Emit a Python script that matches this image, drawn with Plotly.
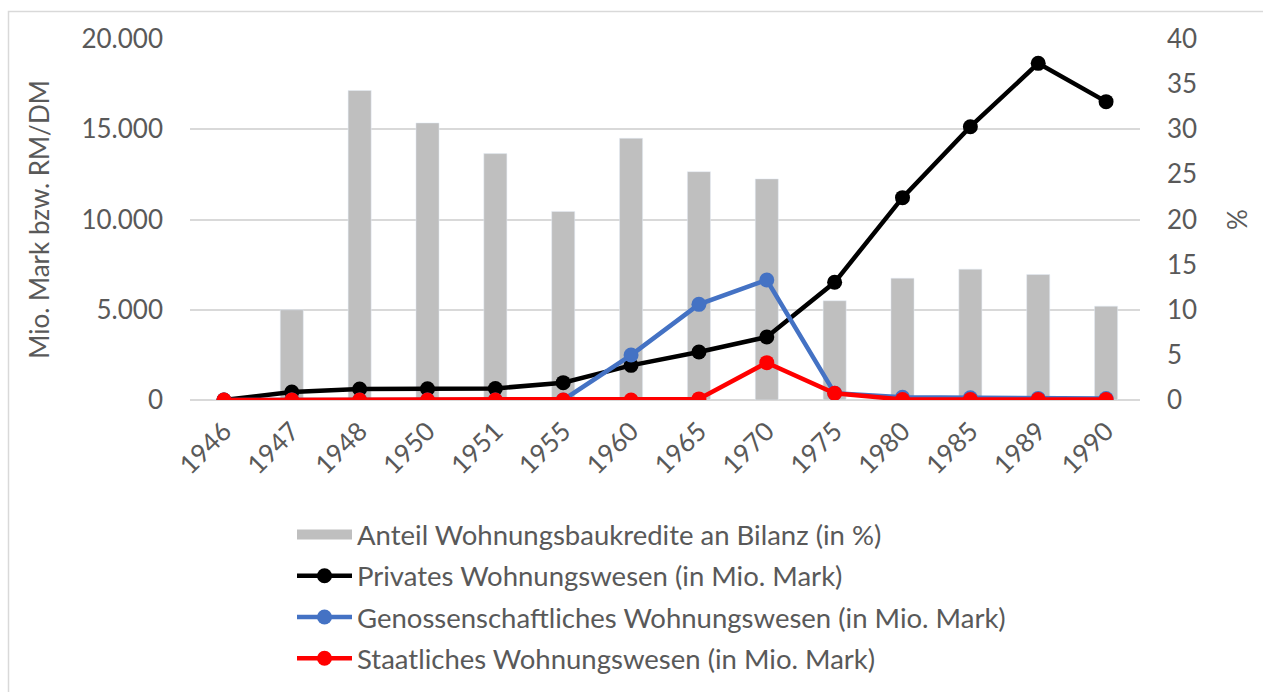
import plotly.graph_objects as go

years = ["1946", "1947", "1948", "1950", "1951", "1955", "1960", "1965",
         "1970", "1975", "1980", "1985", "1989", "1990"]
anteil_pct = [0, 10.0, 34.3, 30.7, 27.3, 20.9, 29.0, 25.3, 24.5, 11.0, 13.5, 14.5, 13.9, 10.4]
privat = [0, 440, 610, 620, 640, 960, 1920, 2660, 3490, 6520, 11210, 15140, 18650, 16530]
genossen = [0, 0, 0, 0, 0, 0, 2490, 5300, 6650, 380, 150, 120, 90, 80]
staatlich = [0, 0, 0, 0, 0, 0, 0, 60, 2070, 370, 30, 30, 30, 30]

names = ["Anteil Wohnungsbaukredite an Bilanz (in %)",
         "Privates Wohnungswesen (in Mio. Mark)",
         "Genossenschaftliches Wohnungswesen (in Mio. Mark)",
         "Staatliches Wohnungswesen (in Mio. Mark)"]

FONT = "Lato"
TXT = "#595959"
FS = 26
LFS = 27.5

fig = go.Figure()
fig.add_trace(go.Bar(x=years, y=anteil_pct, name=names[0], marker_color="#BFBFBF",
                     width=0.34, yaxis="y", showlegend=False))
# legend proxy for the bar series (wide gray swatch)
fig.add_trace(go.Scatter(x=[None], y=[None], mode="lines", name=names[0],
                         line=dict(color="#BFBFBF", width=17), yaxis="y2",
                         legendgroup="a"))
line_specs = [(privat, "#000000", names[1], "b"),
              (genossen, "#4472C4", names[2], "c"),
              (staatlich, "#FF0000", names[3], "d")]
for vals, col, nm, grp in line_specs:
    fig.add_trace(go.Scatter(x=years, y=vals, name=nm, mode="lines+markers",
                             line=dict(color=col, width=4.5),
                             marker=dict(color=col, size=15),
                             yaxis="y2", legendgroup=grp))

fig.update_layout(
    width=1263, height=692,
    margin=dict(l=190, r=123, t=39, b=292, autoexpand=False),
    paper_bgcolor="white", plot_bgcolor="white",
    font=dict(family=FONT, size=FS, color=TXT),
    xaxis=dict(type="category", range=[-0.5, 13.5], tickangle=-45, showgrid=False,
               showline=False, ticks="", tickfont=dict(size=FS, color=TXT),
               ticklabelstandoff=10),
    yaxis=dict(side="right", range=[0, 40], dtick=5, showgrid=False, zeroline=False,
               showline=False, ticks="", ticklabelstandoff=26,
               title=dict(text="%", standoff=32, font=dict(size=FS, color=TXT))),
    yaxis2=dict(side="left", overlaying="y", range=[0, 20000], dtick=5000,
                tickformat=",d", showgrid=True, gridcolor="#D9D9D9", gridwidth=1.5,
                zeroline=True, zerolinecolor="#D9D9D9", zerolinewidth=1.5,
                showline=False, ticks="", ticklabelstandoff=26,
                title=dict(text="Mio. Mark bzw. RM/DM", standoff=24,
                           font=dict(size=FS, color=TXT))),
    separators=",.",
    legend=dict(x=(292 - 190) / 950, y=-0.305, xanchor="left", yanchor="top",
                orientation="v", itemwidth=55, tracegroupgap=2.5,
                font=dict(size=LFS, color=TXT), bgcolor="rgba(0,0,0,0)"),
    shapes=[dict(type="rect", xref="paper", yref="paper",
                 x0=(8.5 - 190) / 950, x1=2.0, y0=-2.0, y1=(400 - 11.5) / 361,
                 line=dict(color="#D9D9D9", width=1.5), fillcolor="rgba(0,0,0,0)",
                 layer="below")],
)
fig.write_html("out.html", config={"displayModeBar": False},
               post_script="document.body.style.margin='0';document.body.style.overflow='hidden';")
